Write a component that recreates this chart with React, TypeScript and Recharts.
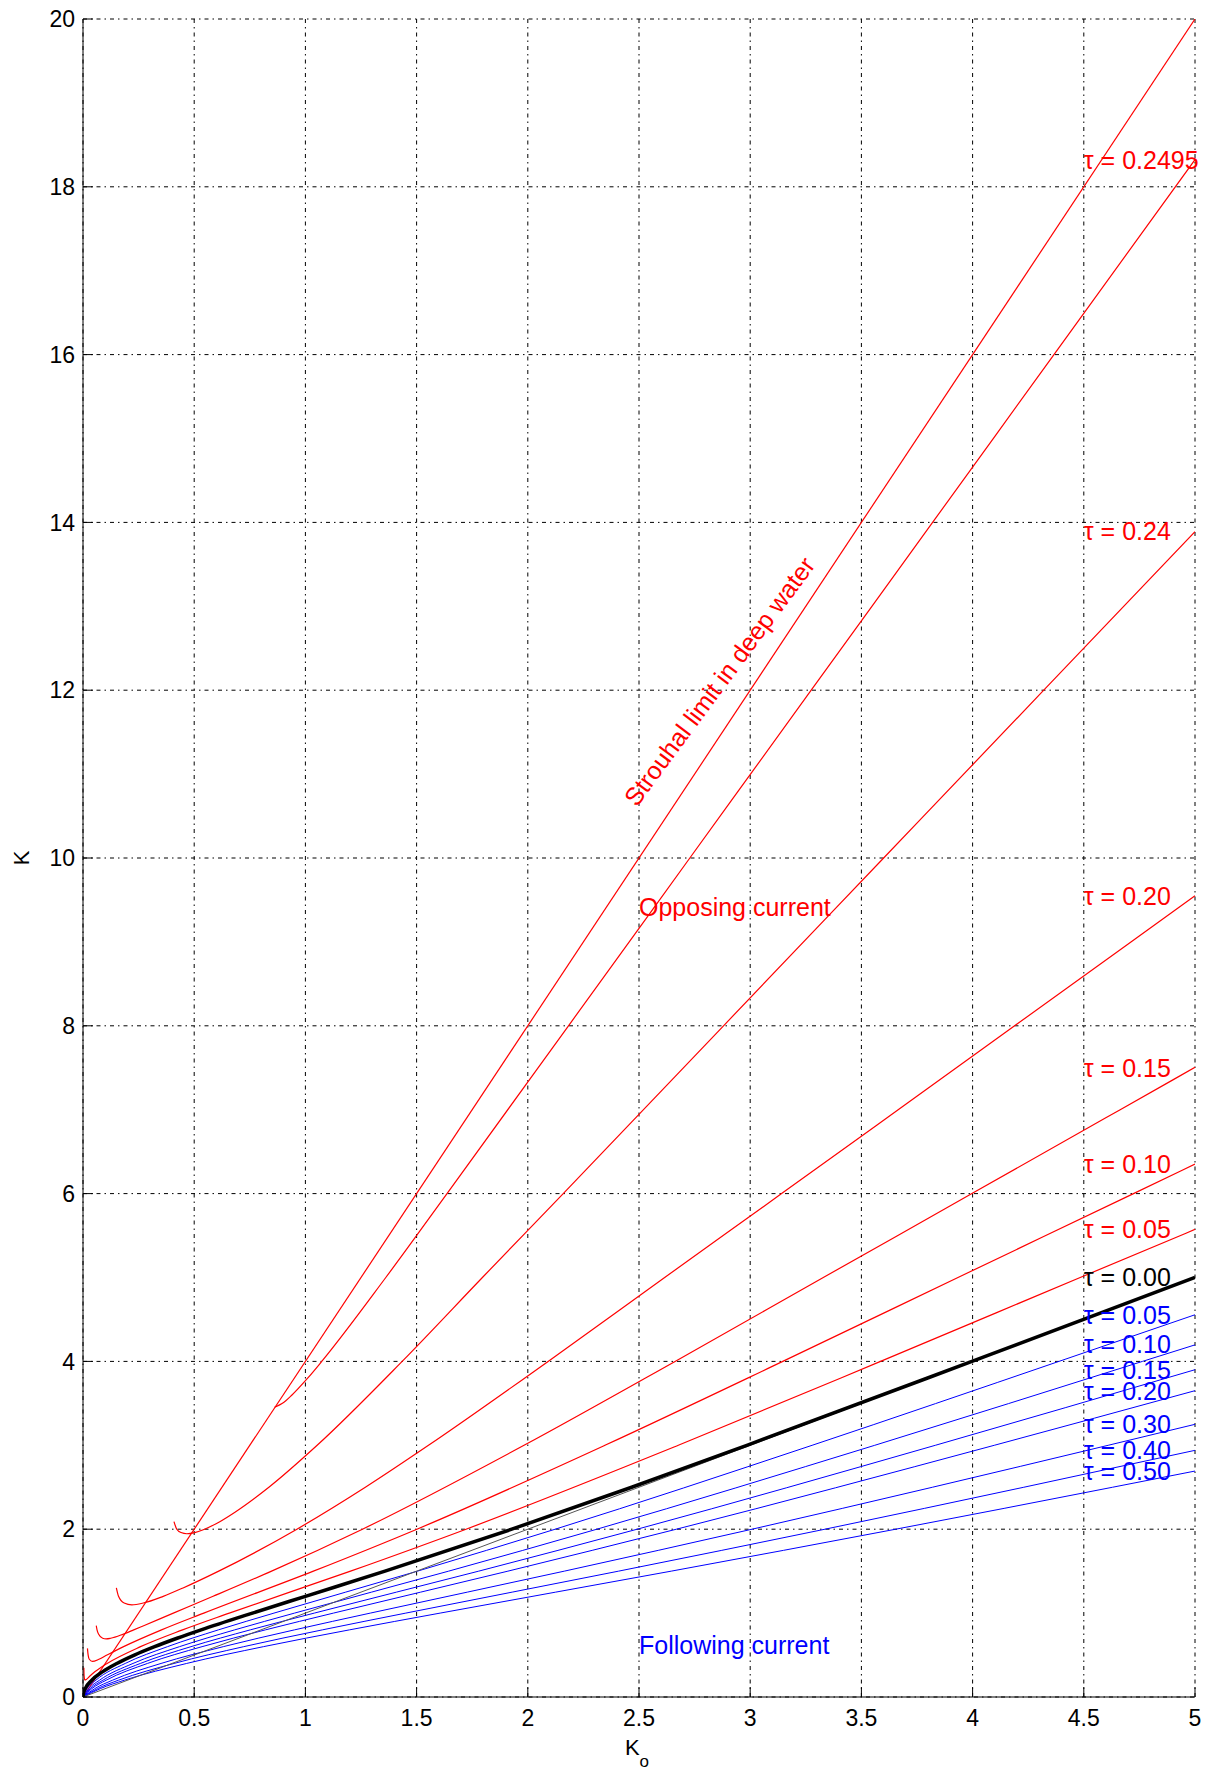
import React from 'react';
import { LineChart, Line, XAxis, YAxis, CartesianGrid, ReferenceDot, Label } from 'recharts';

type Pt = [number, number]; // [K0, K]

const xTicks = [0, 0.5, 1, 1.5, 2, 2.5, 3, 3.5, 4, 4.5, 5];
const yTicks = [0, 2, 4, 6, 8, 10, 12, 14, 16, 18, 20];

// Strouhal limit in deep water, and K = K0 reference
const strouhalLimit: Pt[] = [[0, 0], [5, 20]];
const deepNoCurrent: Pt[] = [[0, 0], [5, 5]];

// opposing current (red)
const tau2495: Pt[] = [
  [0.8616, 3.453], [0.8968, 3.5], [0.9397, 3.6], [1.0101, 3.8], [1.0735, 4], [1.3615, 5], [1.6367, 6],
  [2.1829, 8], [2.7286, 10], [3.2743, 12], [3.8201, 14], [4.3658, 16], [5, 18.324],
];
const tau024: Pt[] = [
  [0.409, 2.09], [0.4216, 2.0], [0.4409, 1.96], [0.467, 1.946], [0.5019, 1.96], [0.5465, 2.0], [0.615, 2.09],
  [0.6816, 2.2], [0.8358, 2.5], [1.0528, 3], [1.4351, 4], [1.7959, 5], [2.1593, 6], [2.88, 8], [3.6, 10],
  [4.32, 12], [5, 13.889],
];
const tau020: Pt[] = [
  [0.15, 1.3], [0.1597, 1.2], [0.185, 1.12], [0.2197, 1.0986], [0.2712, 1.12], [0.3607, 1.2], [0.45, 1.3],
  [0.6102, 1.5], [0.9617, 2], [1.2696, 2.5], [1.5535, 3], [2.0913, 4], [2.6154, 5], [3.1412, 6],
  [3.6653, 7], [4.1889, 8], [5, 9.549],
];
const tau015: Pt[] = [
  [0.0596, 0.85], [0.0631, 0.8], [0.0697, 0.75], [0.0885, 0.7], [0.104, 0.6931], [0.1245, 0.7],
  [0.1817, 0.75], [0.2281, 0.8], [0.2728, 0.85], [0.4062, 1.0], [0.585, 1.2], [0.848, 1.5], [1.2565, 2],
  [1.9831, 3], [2.6621, 4], [3.3287, 5], [3.997, 6], [4.6636, 7], [5, 7.505],
];
const tau010: Pt[] = [
  [0.0201, 0.58], [0.021, 0.55], [0.0232, 0.5], [0.0283, 0.45], [0.0424, 0.4236], [0.0716, 0.45],
  [0.1079, 0.5], [0.1443, 0.55], [0.1825, 0.6], [0.3531, 0.8], [0.5432, 1.0], [1.036, 1.5], [1.5015, 2],
  [2.3469, 3], [3.1465, 4], [3.9342, 5], [4.7234, 6], [5, 6.351],
];
const tau005: Pt[] = [
  [0.0039, 0.35], [0.0042, 0.3], [0.005, 0.25], [0.0072, 0.21], [0.0101, 0.2027], [0.0152, 0.21],
  [0.0312, 0.25], [0.0532, 0.3], [0.0788, 0.35], [0.1083, 0.4], [0.2587, 0.6], [0.4476, 0.8],
  [0.6578, 1.0], [1.203, 1.5], [1.7223, 2], [2.6768, 3], [3.5862, 4], [4.4838, 5], [5, 5.573],
];

// no current (black)
const tau000: Pt[] = [
  [0, 0], [0.0025, 0.05], [0.00997, 0.1], [0.0395, 0.2], [0.0874, 0.3], [0.152, 0.4], [0.231, 0.5],
  [0.322, 0.6], [0.423, 0.7], [0.531, 0.8], [0.762, 1.0], [1.0, 1.2], [1.358, 1.5], [1.928, 2],
  [2.467, 2.5], [2.985, 3], [3.997, 4], [5, 5],
];

// following current (blue)
const tauM005: Pt[] = [
  [0, 0], [0.0186, 0.1], [0.058, 0.2], [0.19, 0.4], [0.3798, 0.6], [0.6086, 0.8], [0.8587, 1.0],
  [1.504, 1.5], [2.1233, 2], [3.2783, 3], [4.3882, 4], [5, 4.556],
];
const tauM010: Pt[] = [
  [0, 0], [0.0261, 0.1], [0.0741, 0.2], [0.2248, 0.4], [0.4339, 0.6], [0.6818, 0.8], [0.9511, 1],
  [1.644, 1.5], [2.3108, 2], [3.56, 3], [4.7637, 4], [5, 4.197],
];
const tauM015: Pt[] = [
  [0, 0], [0.0332, 0.1], [0.0894, 0.2], [0.258, 0.4], [0.4855, 0.6], [0.752, 0.8], [1.04, 1],
  [1.7793, 1.5], [2.492, 2], [3.8324, 3], [5, 3.901],
];
const tauM020: Pt[] = [
  [0, 0], [0.04, 0.1], [0.1041, 0.2], [0.2899, 0.4], [0.5353, 0.6], [0.82, 0.8], [1.1261, 1],
  [1.9106, 1.5], [2.6682, 2], [4.0974, 3], [5, 3.651],
];
const tauM030: Pt[] = [
  [0, 0], [0.053, 0.1], [0.1323, 0.2], [0.3509, 0.4], [0.6308, 0.6], [0.9506, 0.8], [1.2919, 1],
  [2.1642, 1.5], [3.0085, 2], [3.8192, 2.5], [4.6095, 3], [5, 3.25],
];
const tauM040: Pt[] = [
  [0, 0], [0.0656, 0.1], [0.1593, 0.2], [0.4094, 0.4], [0.7225, 0.6], [1.076, 0.8], [1.4514, 1],
  [2.4082, 1.5], [3.3363, 2], [4.2301, 2.5], [5, 2.94],
];
const tauM050: Pt[] = [
  [0, 0], [0.0779, 0.1], [0.1856, 0.2], [0.4662, 0.4], [0.8113, 0.6], [1.1976, 0.8], [1.6059, 1],
  [2.645, 1.5], [3.6545, 2], [4.629, 2.5], [5, 2.693],
];

const tauLabels = [
  'τ = 0.2495', 'τ = 0.24', 'τ = 0.20', 'τ = 0.15', 'τ = 0.10', 'τ = 0.05', 'τ = 0.00',
  'τ = 0.05', 'τ = 0.10', 'τ = 0.15', 'τ = 0.20', 'τ = 0.30', 'τ = 0.40', 'τ = 0.50',
];
const tauLabelK = [18.32, 13.89, 9.55, 7.5, 6.35, 5.57, 5.0, 4.55, 4.2, 3.9, 3.65, 3.25, 2.94, 2.69];
const tauLabelK0 = 4.5;

const RED = '#ff0000';
const BLUE = '#0000ff';
const FONT = '"Liberation Sans", Arial, Helvetica, sans-serif';

const rows = (pts: Pt[]) => pts.map(([k0, k]) => ({ k0, k }));

const redCurves = [strouhalLimit, tau2495, tau024, tau020, tau015, tau010, tau005];
const blueCurves = [tauM005, tauM010, tauM015, tauM020, tauM030, tauM040, tauM050];

const labelColor = (i: number) => (i < 6 ? RED : i === 6 ? '#000' : BLUE);

const textShape = (text: string, color: string, angle = 0) => (p: any) => (
  <text
    x={p.cx}
    y={p.cy}
    dy={angle ? 0 : '0.35em'}
    fill={color}
    fontSize={25}
    fontFamily={FONT}
    transform={angle ? `rotate(${angle}, ${p.cx}, ${p.cy})` : undefined}
  >
    {text}
  </text>
);

const renderXLabel = (p: any) => {
  const vb = p.viewBox;
  return (
    <text x={vb.x + vb.width / 2 - 2} y={vb.y + 58} textAnchor="middle" fontSize={22} fontFamily={FONT} fill="#000">
      K<tspan dy={12} fontSize={17}>o</tspan>
    </text>
  );
};

const renderYLabel = (p: any) => {
  const vb = p.viewBox;
  const cy = vb.y + vb.height / 2;
  return (
    <text x={21} y={cy} dy="0.35em" textAnchor="middle" fontSize={22} fontFamily={FONT} fill="#000"
      transform={`rotate(-90, 21, ${cy})`}>
      K
    </text>
  );
};

export default function App() {
  const tickStyle = { fill: '#000', fontSize: 23, fontFamily: FONT };
  return (
    <div style={{ position: 'absolute', left: 0, top: 0, width: 1207, height: 1773, background: '#fff' }}>
      <LineChart width={1207} height={1773} margin={{ top: 19, right: 12, bottom: 0, left: 0 }}>
        <CartesianGrid stroke="#000" strokeDasharray="4 4 1.5 4" />
        <XAxis dataKey="k0" type="number" domain={[0, 5]} ticks={xTicks} interval={0} height={76}
          tickSize={-10} tickMargin={23} stroke="#000" tick={tickStyle} allowDataOverflow>
          <Label content={renderXLabel} />
        </XAxis>
        <XAxis xAxisId="top" orientation="top" dataKey="k0" type="number" domain={[0, 5]} ticks={xTicks}
          interval={0} height={0} tickSize={-10} tick={false} stroke="#000" />
        <YAxis type="number" domain={[0, 20]} ticks={yTicks} interval={0} width={83}
          tickSize={-10} tickMargin={18} stroke="#000" tick={tickStyle} allowDataOverflow>
          <Label content={renderYLabel} />
        </YAxis>
        <YAxis yAxisId="right" orientation="right" type="number" domain={[0, 20]} ticks={yTicks}
          interval={0} width={0} tickSize={-10} tick={false} stroke="#000" />

        {redCurves.map((c, i) => (
          <Line key={`r${i}`} data={rows(c)} dataKey="k" type="monotone" stroke={RED} strokeWidth={1.2}
            dot={false} activeDot={false} isAnimationActive={false} />
        ))}
        {blueCurves.map((c, i) => (
          <Line key={`b${i}`} data={rows(c)} dataKey="k" type="monotone" stroke={BLUE} strokeWidth={1}
            dot={false} activeDot={false} isAnimationActive={false} />
        ))}
        <Line data={rows(deepNoCurrent)} dataKey="k" type="linear" stroke="#555" strokeWidth={1}
          dot={false} activeDot={false} isAnimationActive={false} />
        <Line data={rows(tau000)} dataKey="k" type="monotone" stroke="#000" strokeWidth={3.5}
          dot={false} activeDot={false} isAnimationActive={false} />

        {tauLabels.map((t, i) => (
          <ReferenceDot key={`l${i}`} x={tauLabelK0} y={tauLabelK[i]} r={1}
            shape={textShape(t, labelColor(i))} />
        ))}
        <ReferenceDot x={2.5} y={9.41} r={1} shape={textShape('Opposing current', RED)} />
        <ReferenceDot x={2.5} y={0.62} r={1} shape={textShape('Following current', BLUE)} />
        <ReferenceDot x={2.49} y={10.6} r={1} shape={textShape('Strouhal limit in deep water', RED, -53.5)} />
      </LineChart>
    </div>
  );
}
